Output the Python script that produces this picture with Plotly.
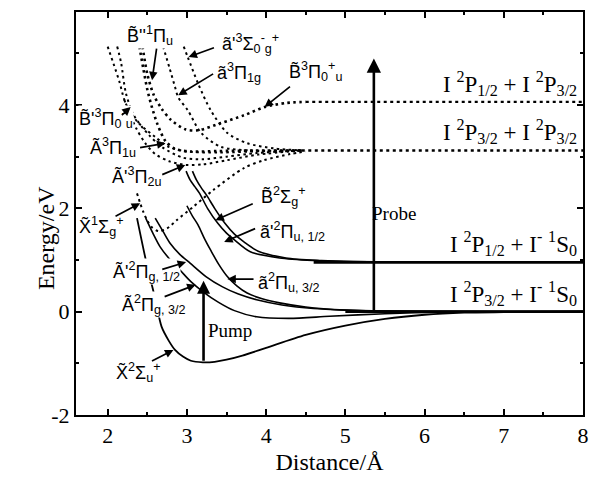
import plotly.graph_objects as go

# ---------------- anion (I2-) potential curves, solid ----------------
X2Su_r = [2.37, 2.49, 2.60, 2.68, 2.77, 2.85, 2.95, 3.05, 3.20, 3.35, 3.50, 3.70, 4.00, 4.50, 5.00, 5.50, 6.00, 6.50, 7.00, 8.00]
X2Su_E = [1.81, 0.94, 0.25, -0.29, -0.56, -0.74, -0.87, -0.95, -0.98, -0.97, -0.93, -0.85, -0.70, -0.45, -0.27, -0.14, -0.06, -0.02, -0.01, 0.0]

A2Pg32_r = [2.48, 2.57, 2.66, 2.78, 2.91, 3.05, 3.20, 3.40, 3.60, 3.88, 4.29, 4.80, 5.50, 6.20, 8.00]
A2Pg32_E = [1.81, 1.52, 1.26, 1.02, 0.81, 0.58, 0.39, 0.18, 0.02, -0.10, -0.13, -0.09, -0.04, -0.01, 0.0]

Ap2Pg12_r = [2.60, 2.70, 2.79, 2.91, 3.04, 3.24, 3.45, 3.65, 3.88, 4.20, 4.60, 5.00, 5.50, 6.00, 8.00]
Ap2Pg12_E = [1.81, 1.55, 1.32, 1.11, 0.94, 0.68, 0.48, 0.34, 0.23, 0.13, 0.06, 0.03, 0.01, 0.0, 0.0]

a2Pu32_r = [3.00, 3.07, 3.14, 3.22, 3.30, 3.40, 3.51, 3.63, 3.76, 3.95, 4.17, 4.50, 5.00, 5.50, 8.00]
a2Pu32_E = [2.05, 1.85, 1.68, 1.42, 1.19, 0.92, 0.68, 0.50, 0.36, 0.25, 0.17, 0.09, 0.03, 0.01, 0.0]

B2Sg_r = [2.99, 3.04, 3.10, 3.16, 3.26, 3.39, 3.50, 3.60, 3.80, 4.17, 4.60, 5.00, 6.00, 8.00]
B2Sg_E = [2.72, 2.55, 2.42, 2.29, 2.00, 1.71, 1.52, 1.39, 1.16, 1.04, 0.99, 0.97, 0.96, 0.955]

ap2Pu12_r = [3.07, 3.12, 3.18, 3.25, 3.35, 3.48, 3.60, 3.72, 3.90, 4.25, 4.70, 5.10, 6.00, 8.00]
ap2Pu12_E = [2.72, 2.55, 2.40, 2.25, 2.00, 1.71, 1.50, 1.35, 1.17, 1.04, 0.99, 0.97, 0.96, 0.955]

# ---------------- neutral (I2) potential curves, dotted ----------------
X1Sg_r = [2.37, 2.41, 2.45, 2.50, 2.56, 2.64, 2.75, 2.87, 3.08, 3.33, 3.72, 3.97, 4.30, 4.50]
X1Sg_E = [2.29, 2.10, 1.93, 1.76, 1.63, 1.56, 1.61, 1.77, 2.03, 2.35, 2.78, 2.93, 3.05, 3.10]

B3P0u_r = [2.44, 2.50, 2.58, 2.68, 2.80, 2.98, 3.14, 3.43, 3.72, 3.98, 4.26, 4.50]
B3P0u_E = [5.13, 4.60, 4.20, 3.93, 3.71, 3.53, 3.51, 3.65, 3.80, 3.96, 4.04, 4.06]

Bpp1Pu_r = [2.40, 2.45, 2.50, 2.56, 2.63, 2.73, 2.85, 3.05, 3.40, 4.00, 4.45]
Bpp1Pu_E = [5.13, 4.70, 4.30, 3.95, 3.62, 3.30, 3.15, 3.10, 3.11, 3.12, 3.12]

a3P1g_r = [2.70, 2.78, 2.85, 2.89, 3.01, 3.18, 3.43, 3.80, 4.45]
a3P1g_E = [5.13, 4.72, 4.35, 4.15, 3.90, 3.46, 3.19, 3.12, 3.12]

ap3S0g_r = [2.96, 3.01, 3.14, 3.30, 3.51, 3.76, 4.10, 4.45]
ap3S0g_E = [5.13, 4.93, 4.42, 3.90, 3.46, 3.26, 3.16, 3.12]

Bp3P0u_r = [2.00, 2.08, 2.15, 2.21, 2.27, 2.39, 2.60, 2.77, 3.00, 3.40, 4.00, 4.45]
Bp3P0u_E = [5.13, 4.77, 4.44, 4.10, 3.90, 3.65, 3.38, 3.19, 3.10, 3.08, 3.11, 3.12]

A3P1u_r = [2.12, 2.17, 2.23, 2.33, 2.52, 2.70, 2.95, 3.20, 3.50, 3.88, 4.45]
A3P1u_E = [5.13, 4.81, 4.23, 3.80, 3.42, 3.17, 2.98, 2.95, 3.00, 3.07, 3.12]

Ap3P2u_r = [2.21, 2.27, 2.36, 2.47, 2.60, 2.78, 2.98, 3.20, 3.50, 3.90, 4.45]
Ap3P2u_E = [4.10, 3.86, 3.55, 3.27, 3.05, 2.91, 2.84, 2.85, 2.93, 3.04, 3.12]

# ---------------- dissociation limits ----------------
lim_I_Im_lo_r = [5.0, 8.0]
lim_I_Im_lo_E = [0.0, 0.0]
lim_I_Im_hi_r = [4.6, 8.0]
lim_I_Im_hi_E = [0.955, 0.955]
lim_I_I_lo_r = [4.45, 8.0]
lim_I_I_lo_E = [3.12, 3.12]
lim_I_I_hi_r = [4.50, 8.0]
lim_I_I_hi_E = [4.06, 4.06]

# ---------------- transitions ----------------
pump_r = 3.21
pump_E = [-0.98, 0.60]
probe_r = 5.36
probe_E = [0.0, 4.90]

# ---------------- axes ----------------
x_ticks = [2, 3, 4, 5, 6, 7, 8]
y_ticks = [-2, 0, 2, 4]
y_ticktext = ["-2", "0", "2", "4"]

SERIF = "Liberation Serif, Times New Roman, serif"
SANS = "Liberation Sans, Arial, sans-serif"

fig = go.Figure()

solid = [
    (X2Su_r, X2Su_E, 1.8), (A2Pg32_r, A2Pg32_E, 1.6), (Ap2Pg12_r, Ap2Pg12_E, 1.6),
    (a2Pu32_r, a2Pu32_E, 1.6), (B2Sg_r, B2Sg_E, 1.6), (ap2Pu12_r, ap2Pu12_E, 1.6),
]
for r, e, w in solid:
    fig.add_trace(go.Scatter(x=r, y=e, mode="lines", line=dict(color="black", width=w, shape="spline", smoothing=0.8),
                             hoverinfo="skip", showlegend=False))

dotted = [
    (X1Sg_r, X1Sg_E, 2.0), (B3P0u_r, B3P0u_E, 2.6), (Bpp1Pu_r, Bpp1Pu_E, 2.6),
    (a3P1g_r, a3P1g_E, 2.0), (ap3S0g_r, ap3S0g_E, 2.0), (Bp3P0u_r, Bp3P0u_E, 2.0),
    (A3P1u_r, A3P1u_E, 2.0), (Ap3P2u_r, Ap3P2u_E, 2.0),
]
for r, e, w in dotted:
    fig.add_trace(go.Scatter(x=r, y=e, mode="lines",
                             line=dict(color="black", width=w, dash="2.5px,3.5px", shape="spline", smoothing=0.8),
                             hoverinfo="skip", showlegend=False))

for r, e in [(lim_I_Im_lo_r, lim_I_Im_lo_E), (lim_I_Im_hi_r, lim_I_Im_hi_E)]:
    fig.add_trace(go.Scatter(x=r, y=e, mode="lines", line=dict(color="black", width=2.8),
                             hoverinfo="skip", showlegend=False))
for r, e in [(lim_I_I_lo_r, lim_I_I_lo_E), (lim_I_I_hi_r, lim_I_I_hi_E)]:
    fig.add_trace(go.Scatter(x=r, y=e, mode="lines", line=dict(color="black", width=2.4, dash="3px,3.5px"),
                             hoverinfo="skip", showlegend=False))

# pump / probe arrows
for r, e, hw in [(pump_r, pump_E, 1.0), (probe_r, probe_E, 1.1)]:
    fig.add_annotation(x=r, y=e[1], ax=r, ay=e[0], xref="x", yref="y", axref="x", ayref="y",
                       text="", showarrow=True, arrowhead=2, arrowsize=hw, arrowwidth=2.6,
                       arrowcolor="black", standoff=0, startstandoff=0)

fig.add_annotation(x=3.55, y=-0.36, text="Pump", showarrow=False, xref="x", yref="y",
                   font=dict(family=SERIF, size=19, color="black"))
fig.add_annotation(x=5.62, y=1.90, text="Probe", showarrow=False, xref="x", yref="y",
                   font=dict(family=SERIF, size=19, color="black"))

# state labels: (text, label x, label y, arrow tail x, tail y, tip x, tip y)
T = "\u0303"
state_labels = [
    ("B" + T + "''<sup>1</sup>Π<sub>u</sub>", 2.54, 5.35, 2.62, 5.12, 2.56, 4.48),
    ("ã'<sup>3</sup>Σ<sub>0</sub><sup>-</sup><sub>g</sub><sup>+</sup>", 3.80, 5.20, 3.36, 5.12, 3.02, 4.93),
    ("ã<sup>3</sup>Π<sub>1g</sub>", 3.66, 4.62, 3.35, 4.62, 2.89, 4.19),
    ("B" + T + "<sup>3</sup>Π<sub>0</sub><sup>+</sup><sub>u</sub>", 4.62, 4.64, 4.32, 4.38, 3.98, 3.96),
    ("B" + T + "'<sup>3</sup>Π<sub>0</sub><sup>-</sup><sub>u</sub>", 1.98, 3.74, 2.16, 3.78, 2.29, 3.96),
    ("Ã<sup>3</sup>Π<sub>1u</sub>", 2.07, 3.17, 2.39, 3.17, 2.73, 3.26),
    ("Ã'<sup>3</sup>Π<sub>2u</sub>", 2.36, 2.62, 2.67, 2.64, 2.98, 2.84),
    ("X" + T + "<sup>1</sup>Σ<sub>g</sub><sup>+</sup>", 1.92, 1.64, 2.08, 1.83, 2.41, 2.10),
    ("B" + T + "<sup>2</sup>Σ<sub>g</sub><sup>+</sup>", 4.22, 2.22, 3.85, 2.10, 3.36, 1.77),
    ("ã'<sup>2</sup>Π<sub>u, 1/2</sub>", 4.33, 1.56, 3.88, 1.62, 3.47, 1.35),
    ("ã<sup>2</sup>Π<sub>u, 3/2</sub>", 4.29, 0.57, 3.86, 0.63, 3.51, 0.63),
    ("Ã'<sup>2</sup>Π<sub>g, 1/2</sub>", 2.49, 0.77, 2.67, 0.81, 2.99, 0.96),
    ("Ã<sup>2</sup>Π<sub>g, 3/2</sub>", 2.59, 0.13, 2.70, 0.28, 3.11, 0.52),
    ("X" + T + "<sup>2</sup>Σ<sub>u</sub><sup>+</sup>", 2.39, -1.17, 2.54, -0.97, 2.83, -0.74),
]
for txt, lx, ly, tx, ty, hx, hy in state_labels:
    fig.add_annotation(x=lx, y=ly, text=txt, showarrow=False, xref="x", yref="y",
                       bgcolor="white", borderpad=0,
                       font=dict(family=SANS, size=18, color="black"))
for txt, lx, ly, tx, ty, hx, hy in state_labels:
    fig.add_annotation(x=hx, y=hy, ax=tx, ay=ty, xref="x", yref="y", axref="x", ayref="y",
                       text="", showarrow=True, arrowhead=2, arrowsize=1.0, arrowwidth=1.7,
                       arrowcolor="black", standoff=0, startstandoff=0)

# dissociation limit labels
limit_labels = [
    ("I <sup>2</sup>P<sub>1/2</sub> + I <sup>2</sup>P<sub>3/2</sub>", 4.06),
    ("I <sup>2</sup>P<sub>3/2</sub> + I <sup>2</sup>P<sub>3/2</sub>", 3.12),
    ("I <sup>2</sup>P<sub>1/2</sub> + I<sup>-</sup> <sup>1</sup>S<sub>0</sub>", 0.955),
    ("I <sup>2</sup>P<sub>3/2</sub> + I<sup>-</sup> <sup>1</sup>S<sub>0</sub>", 0.0),
]
for txt, e in limit_labels:
    fig.add_annotation(x=0.992, y=e, xref="paper", yref="y", text=txt, showarrow=False,
                       xanchor="right", yanchor="bottom", yshift=1,
                       font=dict(family=SERIF, size=23, color="black"))

# y-axis title, set slightly below the vertical centre of the frame
fig.add_annotation(x=-0.09, y=0.44, xref="paper", yref="paper", text="Energy/eV",
                   textangle=-90, showarrow=False,
                   font=dict(family=SERIF, size=24, color="black"))

axis_common = dict(showline=True, linewidth=2, linecolor="black", mirror="ticks",
                   ticks="inside", ticklen=6, tickwidth=1.5, tickcolor="black",
                   showgrid=False, zeroline=False,
                   tickfont=dict(family=SERIF, size=22, color="black"))

fig.update_xaxes(range=[1.6, 8.0], tickvals=x_ticks,
                 minor=dict(ticks="inside", dtick=0.5, ticklen=3, tickcolor="black", showgrid=False),
                 title=dict(text="Distance/Å", font=dict(family=SERIF, size=24, color="black"), standoff=6),
                 **axis_common)
fig.update_yaxes(range=[-2, 5.8], tickvals=y_ticks, ticktext=y_ticktext,
                 minor=dict(ticks="inside", dtick=1, ticklen=3, tickcolor="black", showgrid=False),
                 **axis_common)

fig.update_layout(width=596, height=478, margin=dict(l=76, r=7, t=12, b=62),
                  plot_bgcolor="white", paper_bgcolor="white", showlegend=False)

fig.write_html("out.html")
